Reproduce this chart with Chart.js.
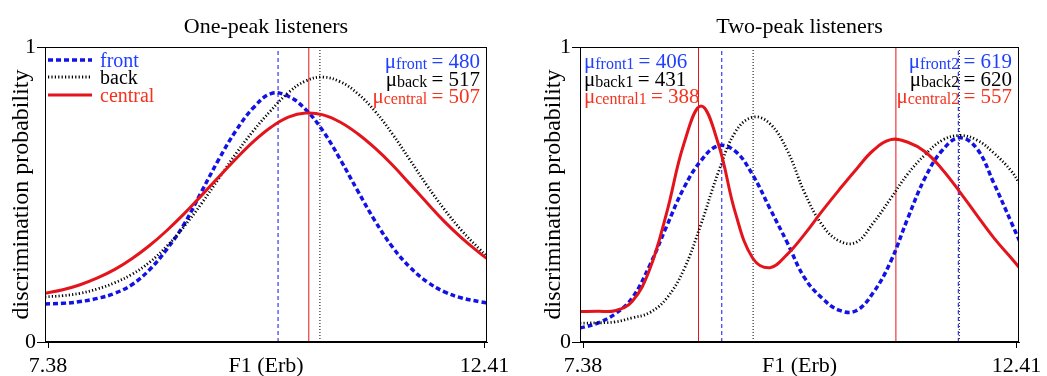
<!DOCTYPE html>
<html>
<head>
<meta charset="utf-8">
<script src="https://cdn.jsdelivr.net/npm/chart.js@4.4.0/dist/chart.umd.min.js"></script>
<style>
  body { margin: 0; background: #fff; width: 1047px; height: 376px; position: relative; overflow: hidden; }
  canvas { position: absolute; top: 0; }
  #onePeak { left: 0; }
  #twoPeak { left: 534px; }
</style>
</head>
<body>
<canvas id="onePeak" width="523" height="376"></canvas>
<canvas id="twoPeak" width="513" height="376"></canvas>
<script>
// F1 in Erb, sampled along the curves
const erbOne = [7.345, 7.55, 7.75, 7.95, 8.15, 8.35, 8.55, 8.75, 8.95, 9.15, 9.35, 9.55, 9.75, 9.95,
  10.15, 10.35, 10.55, 10.75, 10.95, 11.15, 11.35, 11.55, 11.75, 11.95, 12.15, 12.35, 12.45];
const frontOne = [0.129, 0.131, 0.137, 0.148, 0.165, 0.195, 0.245, 0.315, 0.400, 0.510, 0.620, 0.718, 0.795, 0.842,
  0.833, 0.788, 0.715, 0.618, 0.512, 0.410, 0.322, 0.254, 0.204, 0.170, 0.149, 0.137, 0.132];
const backOne = [0.153, 0.157, 0.165, 0.180, 0.201, 0.230, 0.270, 0.325, 0.392, 0.470, 0.555, 0.640, 0.717, 0.785,
  0.845, 0.885, 0.898, 0.882, 0.842, 0.782, 0.705, 0.618, 0.530, 0.449, 0.377, 0.316, 0.287];
const centralOne = [0.165, 0.177, 0.194, 0.217, 0.246, 0.283, 0.327, 0.378, 0.435, 0.497, 0.560, 0.622, 0.680, 0.728,
  0.762, 0.776, 0.770, 0.745, 0.706, 0.657, 0.600, 0.536, 0.471, 0.408, 0.352, 0.303, 0.280];

const erbTwo = erbOne;
const frontTwo = [0.047, 0.064, 0.095, 0.149, 0.257, 0.392, 0.522, 0.615, 0.665, 0.646, 0.566, 0.452, 0.337, 0.218,
  0.150, 0.108, 0.106, 0.168, 0.272, 0.420, 0.557, 0.650, 0.692, 0.656, 0.537, 0.406, 0.340];
const backTwo = [0.064, 0.065, 0.068, 0.082, 0.099, 0.148, 0.245, 0.400, 0.575, 0.713, 0.762, 0.740, 0.650, 0.507,
  0.399, 0.343, 0.338, 0.404, 0.486, 0.570, 0.635, 0.684, 0.700, 0.685, 0.640, 0.580, 0.535];
const centralTwo = [0.103, 0.104, 0.106, 0.137, 0.243, 0.437, 0.671, 0.800, 0.672, 0.436, 0.284, 0.252, 0.297, 0.365,
  0.442, 0.515, 0.585, 0.650, 0.686, 0.677, 0.645, 0.585, 0.510, 0.430, 0.352, 0.285, 0.250];

// peak means in Hz
const muNames = ['front', 'back', 'central'];
const muOneHz = [480, 517, 507];
const muTwoLowHz = [406, 431, 388];
const muTwoHighHz = [619, 620, 557];

const xTicks = [7.38, 12.41];
const yTicks = [0, 1];

const SERIF = '"Liberation Serif", "Times New Roman", serif';
const BLUE = '#1212e6', BLACK = '#000', RED = '#e3141c';
const TEXT_COLORS = ['#2040ff', '#000', '#f5321e'];
const curveStyles = [
  { color: BLUE, width: 3.5, dash: [5, 3] },
  { color: BLACK, width: 2.8, dash: [1.2, 2.2] },
  { color: RED, width: 3, dash: [] },
];
const vlineStyles = [
  { color: BLUE, dash: [4, 3] },
  { color: BLACK, dash: [1, 2] },
  { color: RED, dash: [] },
];

function hzToErb(f) {
  return 11.17 * Math.log((f + 312) / (f + 14675)) + 43.0;
}

function curve(xs, ys, i) {
  const s = curveStyles[i];
  return {
    data: xs.map((x, k) => ({ x: x, y: ys[k] })),
    borderColor: s.color, borderWidth: s.width, borderDash: s.dash,
    pointRadius: 0, tension: 0.4, fill: false,
  };
}

function vline(hz, i) {
  const s = vlineStyles[i];
  const e = hzToErb(hz);
  return {
    data: [{ x: e, y: 0 }, { x: e, y: 1 }],
    borderColor: s.color, borderWidth: 1, borderDash: s.dash,
    pointRadius: 0, fill: false,
  };
}

function drawMu(ctx, x, y, name, hz, color, align) {
  const parts = [
    ['\u03bc', '21px ' + SERIF, 0],
    [name, '16px ' + SERIF, 1],
    ['\u2009= ' + hz, '21px ' + SERIF, 0],
  ];
  let widths = parts.map(p => { ctx.font = p[1]; return ctx.measureText(p[0]).width; });
  let total = widths.reduce((a, b) => a + b, 0);
  let cx = align === 'right' ? x - total : x;
  ctx.fillStyle = color;
  ctx.textAlign = 'left';
  ctx.textBaseline = 'alphabetic';
  parts.forEach((p, k) => {
    ctx.font = p[1];
    ctx.fillText(p[0], cx, y + p[2]);
    cx += widths[k];
  });
}

const rowY = [68, 85.5, 102.5];

const panelText = {
  id: 'panelText',
  afterDraw(chart, args, opts) {
    const { ctx, chartArea: a } = chart;
    ctx.save();
    // box round the plot
    const l = Math.round(a.left) + 0.5, t = Math.round(a.top) + 0.5;
    const r = Math.round(a.right) - 0.5, b = Math.round(a.bottom) - 0.5;
    ctx.strokeStyle = '#000';
    ctx.lineWidth = 1;
    ctx.setLineDash([]);
    ctx.strokeRect(l, t, r - l, b - t);

    ctx.fillStyle = '#000';
    ctx.font = '22px ' + SERIF;
    ctx.textAlign = 'center';
    ctx.textBaseline = 'alphabetic';
    ctx.fillText(opts.title, (a.left + a.right) / 2, 33);

    if (opts.legend) {
      [60, 77, 95].forEach((ly, i) => {
        const s = curveStyles[i];
        ctx.strokeStyle = s.color;
        ctx.lineWidth = s.width;
        ctx.setLineDash(s.dash);
        ctx.beginPath();
        ctx.moveTo(a.left + 3, ly);
        ctx.lineTo(a.left + 47, ly);
        ctx.stroke();
        ctx.fillStyle = TEXT_COLORS[i];
        ctx.font = '20px ' + SERIF;
        ctx.textAlign = 'left';
        ctx.fillText(muNames[i], a.left + 55, ly + 6.5);
      });
    }
    if (opts.leftMu) {
      opts.leftMu.forEach((hz, i) => drawMu(ctx, a.left + 4, rowY[i], muNames[i] + opts.leftSuffix, hz, TEXT_COLORS[i], 'left'));
    }
    if (opts.rightMu) {
      opts.rightMu.forEach((hz, i) => drawMu(ctx, a.right - 7, rowY[i], muNames[i] + opts.rightSuffix, hz, TEXT_COLORS[i], 'right'));
    }
    ctx.restore();
  }
};

function makeChart(id, datasets, yAxisWidth, yTitlePad, padRight, textOpts) {
  return new Chart(document.getElementById(id), {
    type: 'line',
    data: { datasets: datasets },
    plugins: [panelText],
    options: {
      responsive: false,
      animation: false,
      devicePixelRatio: 1,
      layout: { padding: { left: 0, top: 47, right: padRight, bottom: 0 } },
      plugins: {
        legend: { display: false },
        tooltip: { enabled: false },
        panelText: textOpts,
      },
      scales: {
        x: {
          type: 'linear', min: 7.345, max: 12.44,
          afterBuildTicks: s => { s.ticks = xTicks.map(v => ({ value: v })); },
          afterFit: s => { s.height = 34; },
          ticks: {
            font: { family: SERIF, size: 22 }, color: '#000', padding: 5,
            maxRotation: 0, autoSkip: false, callback: v => v.toFixed(2),
          },
          grid: { drawOnChartArea: false, tickLength: 6, color: '#000' },
          border: { color: '#000', width: 1 },
          title: {
            display: true, text: 'F1 (Erb)', color: '#000',
            font: { family: SERIF, size: 22 }, padding: { top: 0, bottom: -3 },
          },
        },
        y: {
          min: 0, max: 1,
          afterBuildTicks: s => { s.ticks = yTicks.map(v => ({ value: v })); },
          afterFit: s => { s.width = yAxisWidth; },
          ticks: { font: { family: SERIF, size: 22 }, color: '#000', padding: 1, callback: v => String(v) },
          grid: { drawOnChartArea: false, tickLength: 8, color: '#000' },
          border: { color: '#000', width: 1 },
          title: {
            display: true, text: 'discrimination probability', color: '#000',
            font: { family: SERIF, size: 24 }, padding: { top: yTitlePad, bottom: 0 },
          },
        },
      },
    },
  });
}

// central first so it is drawn on top, vertical lines last so they sit underneath
makeChart('onePeak', [
  curve(erbOne, centralOne, 2),
  curve(erbOne, backOne, 1),
  curve(erbOne, frontOne, 0),
  ...muOneHz.map((hz, i) => vline(hz, i)),
], 45, 7, 36, { title: 'One-peak listeners', legend: true, rightMu: muOneHz, rightSuffix: '' });

makeChart('twoPeak', [
  curve(erbTwo, centralTwo, 2),
  curve(erbTwo, backTwo, 1),
  curve(erbTwo, frontTwo, 0),
  ...muTwoLowHz.map((hz, i) => vline(hz, i)),
  ...muTwoHighHz.map((hz, i) => vline(hz, i)),
], 46, 5.6, 28, {
  title: 'Two-peak listeners', legend: false,
  leftMu: muTwoLowHz, leftSuffix: '1', rightMu: muTwoHighHz, rightSuffix: '2',
});
</script>
</body>
</html>
